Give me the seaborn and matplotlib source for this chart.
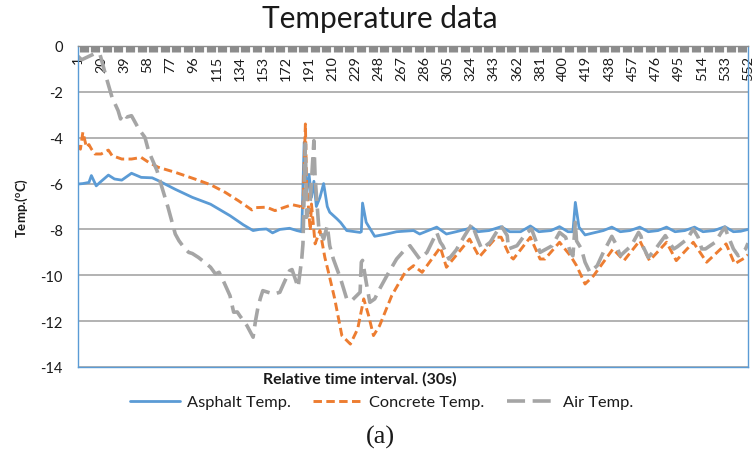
import matplotlib
matplotlib.use("Agg")
import matplotlib.pyplot as plt
import numpy as np
import pandas as pd
import seaborn as sns

# ---------------- data ----------------
asphalt_x = [1, 5, 10, 12, 16, 19, 26, 31, 37, 45, 53, 62, 67, 81, 95, 110, 126, 137, 145, 150,
             156, 161, 167, 175, 181, 185, 187, 189, 191, 193, 195, 197, 200, 203, 206, 208,
             214, 217, 222, 233, 234, 235, 238, 245, 255, 263, 277, 282, 296, 304, 312, 321,
             325, 330, 339, 349, 356, 365, 373, 380, 390, 397, 404, 408, 410, 413, 418, 425,
             433, 440, 447, 455, 463, 470, 478, 485, 492, 500, 508, 515, 524, 533, 540, 546, 552]
asphalt_y = [-6.02, -6.0, -5.95, -5.65, -6.1, -5.95, -5.63, -5.8, -5.85, -5.55, -5.73, -5.75, -5.87,
             -6.25, -6.6, -6.9, -7.4, -7.8, -8.05, -8.0, -7.98, -8.15, -8.0, -7.95, -8.05, -8.1,
             -4.2, -6.5, -5.6, -6.6, -5.9, -7.0, -6.6, -6.0, -7.0, -7.25, -7.54, -7.7, -8.05, -8.13,
             -8.1, -6.85, -7.69, -8.3, -8.2, -8.1, -8.05, -8.2, -7.9, -8.2, -8.1, -7.98, -7.9, -8.1,
             -8.05, -7.88, -8.1, -8.1, -7.85, -8.1, -8.05, -7.88, -8.1, -8.1, -6.82, -7.9, -8.24,
             -8.15, -8.05, -7.9, -8.1, -8.05, -7.9, -8.1, -8.05, -7.9, -8.1, -8.05, -7.9, -8.1,
             -8.05, -7.88, -8.1, -8.08, -8.0]

concrete_x = [1, 3, 5, 8, 10, 12, 15, 20, 26, 29, 37, 45, 53, 59, 67, 81, 97, 110, 122, 133, 144,
              147, 156, 163, 171, 177, 184, 186, 188, 189, 192, 193, 196, 200, 204, 207, 212, 218,
              225, 231, 236, 240, 244, 249, 259, 270, 277, 284, 292, 299, 304, 314, 323, 331, 345,
              349, 356, 359, 373, 381, 385, 397, 406, 411, 418, 425, 441, 450, 463, 471, 485, 493,
              507, 518, 534, 541, 550, 552]
concrete_y = [-4.35, -4.5, -3.76, -4.42, -4.3, -4.49, -4.71, -4.71, -4.54, -4.78, -4.93, -4.93, -4.86,
              -5.07, -5.29, -5.51, -5.8, -6.05, -6.38, -6.75, -7.15, -7.05, -7.03, -7.18, -7.03,
              -6.92, -7.0, -7.15, -3.4, -6.02, -8.05, -6.89, -8.63, -8.05, -9.22, -9.87, -11.0,
              -12.63, -13.0, -12.34, -11.03, -11.76, -12.63, -12.2, -10.89, -9.87, -9.58, -9.87,
              -9.29, -8.78, -9.65, -9.0, -8.42, -9.2, -8.34, -8.34, -9.15, -9.29, -8.34, -9.29,
              -9.29, -8.56, -9.15, -9.58, -10.38, -10.02, -8.85, -9.36, -8.49, -9.36, -8.56, -9.36,
              -8.56, -9.43, -8.63, -9.5, -9.22, -9.1]

air_x = [1, 4, 8, 14, 19, 25, 29, 34, 36, 38, 41, 45, 51, 56, 59, 66, 70, 75, 81, 84, 88, 92, 95,
         100, 105, 110, 114, 117, 121, 126, 129, 132, 134, 140, 143, 145, 147, 149, 151, 153, 162,
         167, 170, 175, 177, 182, 185, 186, 188, 189, 192, 195, 196, 199, 203, 206, 208, 211, 217,
         222, 226, 233, 234, 235, 238, 241, 245, 249, 255, 263, 269, 274, 278, 282, 288, 296, 299,
         301, 306, 312, 319, 325, 329, 333, 340, 345, 349, 354, 355, 362, 369, 374, 377, 381, 391,
         397, 402, 406, 408, 410, 411, 415, 418, 422, 428, 433, 440, 443, 447, 450, 456, 462, 464,
         466, 470, 476, 481, 484, 488, 491, 494, 502, 507, 511, 514, 517, 525, 530, 533, 535, 540,
         544, 550, 552]
air_y = [-0.45, -0.6, -0.5, -0.35, -0.35, -1.51, -2.24, -2.82, -3.18, -2.95, -3.1, -3.04, -3.62, -3.98,
         -4.57, -5.44, -6.16, -7.03, -8.2, -8.49, -8.78, -9.0, -9.05, -9.22, -9.43, -9.65, -9.94,
         -9.87, -10.3, -10.89, -11.61, -11.6, -11.76, -12.2, -12.5, -12.7, -11.98, -11.4, -11.0,
         -10.67, -10.82, -10.74, -10.38, -9.8, -9.75, -10.52, -9.29, -8.63, -4.27, -7.47, -6.75,
         -4.13, -5.73, -7.91, -8.42, -7.84, -8.71, -9.29, -10.16, -11.03, -11.11, -10.74, -9.43,
         -9.35, -10.3, -11.18, -11.03, -10.6, -10.02, -9.29, -8.93, -8.71, -9.0, -9.29, -9.0, -8.13,
         -8.56, -8.71, -9.29, -8.9, -8.27, -7.76, -8.34, -8.85, -8.56, -8.13, -7.84, -8.27, -8.85,
         -8.71, -8.2, -7.98, -8.42, -9.0, -8.71, -8.13, -8.34, -9.0, -9.15, -7.69, -8.5, -8.85,
         -9.43, -9.87, -9.58, -9.0, -8.3, -8.6, -9.15, -9.0, -8.71, -8.13, -8.3, -8.78, -9.22,
         -8.85, -8.49, -8.27, -8.63, -8.85, -8.75, -8.42, -7.98, -8.34, -8.85, -8.85, -8.56, -8.13,
         -7.91, -8.2, -8.85, -9.15, -8.85, -8.6]

series_names = ["Asphalt Temp.", "Concrete Temp.", "Air Temp."]
x_tick_values = [1, 20, 39, 58, 77, 96, 115, 134, 153, 172, 191, 210, 229, 248, 267, 286, 305,
                 324, 343, 362, 381, 400, 419, 438, 457, 476, 495, 514, 533, 552]
y_tick_values = [0, -2, -4, -6, -8, -10, -12, -14]

# ---------------- style ----------------
sns.set_theme(style="white")
plt.rcParams['font.family'] = ['Lato', 'DejaVu Sans']
plt.rcParams['axes.unicode_minus'] = False

BLUE = '#5B9BD5'
ORANGE = '#ED7D31'
GRAY = '#A5A5A5'
TXT = '#1a1a1a'

W, H = 754, 452
fig = plt.figure(figsize=(W / 100, H / 100), dpi=100)
ax = fig.add_axes([78 / W, 1 - 368 / H, 670 / W, 321 / H])

sns.lineplot(x=asphalt_x, y=asphalt_y, ax=ax, color=BLUE, linewidth=2.0,
             label=series_names[0], errorbar=None)
sns.lineplot(x=concrete_x, y=concrete_y, ax=ax, color=ORANGE, linewidth=2.1,
             linestyle=(0, (2.9, 1.5)), label=series_names[1], errorbar=None)
sns.lineplot(x=air_x, y=air_y, ax=ax, color=GRAY, linewidth=2.6,
             linestyle=(0, (5.0, 2.1)), label=series_names[2], errorbar=None)

handles, labels = ax.get_legend_handles_labels()
if ax.get_legend() is not None:
    ax.get_legend().remove()

ax.set_xlim(1, 552)
ax.set_ylim(-14, 0)
ax.set_xlabel("")

# y axis
ax.set_yticks(y_tick_values)
ax.set_yticklabels([str(v) for v in y_tick_values])
ax.tick_params(axis='y', length=0, pad=11, labelsize=10.5, labelcolor=TXT)
ax.yaxis.grid(True, color='#A6A6A6', linewidth=1.2)
ax.xaxis.grid(False)
ax.set_ylabel("Temp.($\\mathregular{^o}$C)", fontsize=9.5, fontweight='bold', color=TXT)
ax.yaxis.set_label_coords(-0.072, 0.5)

# x axis on top with labels inside the plot
ax.xaxis.set_ticks_position('top')
ax.set_xticks(x_tick_values)
ax.set_xticklabels([str(v) for v in x_tick_values])
ax.tick_params(axis='x', which='major', top=True, bottom=False, labeltop=True, labelbottom=False,
               length=0, pad=-6.5, labelsize=10.4, labelrotation=90, labelcolor=TXT)
for lab in ax.get_xticklabels():
    lab.set_verticalalignment('top')
block_pos = np.arange(1 + 4.75, 552, 9.5)
ax.set_xticks(block_pos, minor=True)
ax.tick_params(axis='x', which='minor', top=True, bottom=False, direction='in',
               length=4.3, width=6.6, color='#8C8C8C')

for side in ['left', 'right', 'bottom']:
    ax.spines[side].set_color(BLUE)
    ax.spines[side].set_linewidth(1.0)
ax.spines['top'].set_color('#8C8C8C')
ax.spines['top'].set_linewidth(1.0)

# texts
fig.text(380 / W, 1 - 19 / H, "Temperature data", ha='center', va='center', fontsize=21.5, color=TXT)
fig.text(360 / W, 1 - 379 / H, "Relative time interval. (30s)", ha='center', va='center',
         fontsize=11.5, fontweight='bold', color=TXT)
fig.text(380 / W, 1 - 437 / H, "(a)", ha='center', va='center', fontsize=19,
         family='Liberation Serif', color=TXT)

fig.legend(handles, labels, loc='center', bbox_to_anchor=(382 / W, 1 - 403 / H), ncol=3,
           frameon=False, fontsize=11.8, handlelength=3.0, handletextpad=0.45,
           columnspacing=1.35, labelcolor=TXT)

fig.savefig("out.png", dpi=100)
